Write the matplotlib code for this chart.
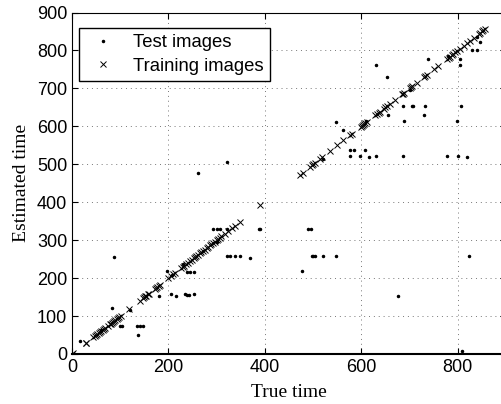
import matplotlib
matplotlib.use("Agg")
import matplotlib.pyplot as plt
import numpy as np

# training images: true time (estimated equals true on the diagonal)
train_true = [0, 3, 28, 30, 44, 47, 50, 52, 55, 58, 61, 64, 66, 68, 75, 78, 80, 83, 85, 88,
              90, 93, 95, 98, 101, 118, 140, 147, 150, 152, 154, 157, 159, 172, 175, 177,
              180, 182, 199, 206, 210, 213, 227, 230, 232, 236, 241, 245, 249, 252, 255,
              258, 261, 265, 268, 272, 275, 279, 282, 286, 289, 293, 296, 300, 303, 307,
              310, 317, 324, 332, 338, 348, 390,
              472, 478, 494, 497, 500, 503, 514, 518, 535, 550, 563, 577, 580, 599, 602,
              604, 606, 608, 612, 629, 632, 636, 639, 646, 650, 653, 660, 670, 684, 686,
              689, 700, 703, 705, 715, 729, 732, 736, 750, 760, 777, 781, 784, 788, 791,
              795, 798, 805, 812, 819, 826, 833, 843, 847, 850, 853, 857]
train_est = [0, 3, 28, 30, 44, 47, 50, 52, 55, 58, 61, 64, 66, 68, 75, 78, 80, 83, 85, 88,
             90, 93, 95, 98, 101, 118, 140, 147, 150, 152, 154, 157, 159, 172, 175, 177,
             180, 182, 199, 206, 210, 213, 227, 230, 232, 236, 241, 245, 249, 252, 255,
             258, 261, 265, 268, 272, 275, 279, 282, 286, 289, 293, 296, 300, 303, 307,
             310, 317, 324, 332, 338, 348, 393,
             472, 478, 494, 497, 500, 503, 514, 518, 535, 550, 563, 577, 580, 599, 602,
             604, 606, 608, 612, 629, 632, 636, 639, 646, 650, 653, 660, 670, 684, 686,
             689, 700, 703, 705, 715, 729, 732, 736, 750, 760, 777, 781, 784, 788, 791,
             795, 798, 805, 812, 819, 826, 833, 843, 847, 850, 853, 857]

# test images: (true time, estimated time)
test_true = [17, 87, 82, 100, 103, 134, 141, 148, 136, 196, 207, 181, 205, 216,
             234, 238, 243, 252, 238, 245, 252, 293, 300, 307, 321, 387,
             321, 328, 338, 349, 369, 261, 322, 390,
             490, 495, 497, 500, 504, 520, 548, 476, 677, 824, 808,
             631, 653, 548, 563, 577, 584, 608, 577, 598, 616, 630, 687, 777, 800, 819,
             656, 686, 705, 708, 732, 689, 730, 739, 806, 799, 805, 805, 829, 839, 846,
             60, 120, 230, 300, 520, 610, 700, 780, 840]
test_est = [33, 256, 121, 73, 73, 73, 73, 73, 51, 218, 209, 152, 158, 154,
            158, 156, 156, 158, 217, 217, 217, 329, 329, 329, 329, 329,
            259, 259, 259, 257, 253, 478, 505, 329,
            329, 329, 259, 259, 259, 259, 259, 218, 154, 259, 9,
            762, 731, 612, 591, 538, 538, 538, 521, 521, 519, 521, 521, 521, 521, 519,
            630, 654, 654, 654, 654, 613, 630, 777, 654, 613, 777, 762, 800, 800, 821,
            64, 115, 236, 296, 515, 614, 696, 785, 836]

x_ticks = [0, 200, 400, 600, 800]
y_ticks = [0, 100, 200, 300, 400, 500, 600, 700, 800, 900]

fig = plt.figure(figsize=(5.01, 4.04), dpi=100)
ax = fig.add_axes([72 / 501, 50 / 404, 434 / 501, 341.5 / 404])

ax.plot(test_true, test_est, ".", color="black", markersize=3, label="Test images")
ax.plot(train_true, train_est, "x", color="black", markersize=5, markeredgewidth=0.7,
        label="Training images")

ax.set_xlim(0, 900)
ax.set_ylim(0, 900)
ax.set_xticks(x_ticks)
ax.set_yticks(y_ticks)
ax.tick_params(direction="in", top=True, right=True, length=4, labelsize=13)
for lab in ax.get_xticklabels() + ax.get_yticklabels():
    lab.set_family("Liberation Sans")
ax.grid(True, linestyle=(0, (1, 4)), color="#777777", linewidth=0.7)
ax.spines["bottom"].set_linewidth(1.5)

ax.set_xlabel("True time", family="Liberation Serif", fontsize=14, labelpad=6)
ax.set_ylabel("Estimated time", family="Liberation Serif", fontsize=14, labelpad=5)

leg = ax.legend(loc="upper left", bbox_to_anchor=(0.015, 0.955), fancybox=False,
                framealpha=1, edgecolor="black", borderaxespad=0,
                prop={"family": "Liberation Sans", "size": 13.3},
                handlelength=2.0, handletextpad=0.6, borderpad=0.35, labelspacing=0.35,
                markerscale=1.0)
leg.get_frame().set_linewidth(1.0)

fig.savefig("out.png", dpi=100)
